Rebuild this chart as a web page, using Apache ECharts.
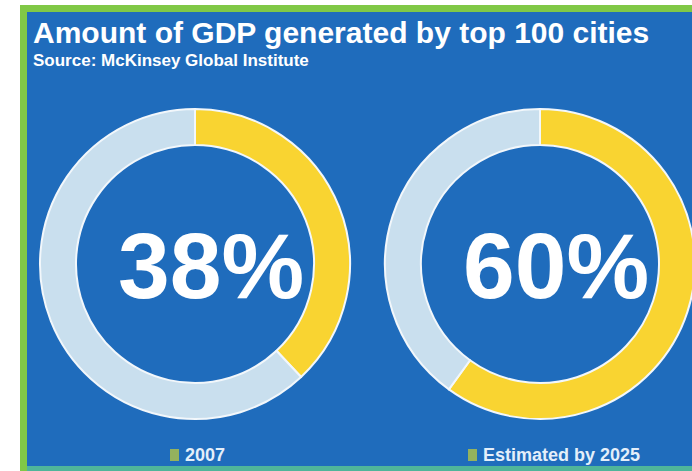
<!DOCTYPE html>
<html><head><meta charset="utf-8">
<script src="https://cdn.jsdelivr.net/npm/echarts@6/dist/echarts.min.js"></script>
<style>html,body{margin:0;padding:0;background:#fff;}#c{width:692px;height:471px;}</style>
</head><body><div id="c"></div>
<script>
const titleText = 'Amount of GDP generated by top 100 cities';
const subtitleText = 'Source: McKinsey Global Institute';
const pieNames = ['2007', 'Estimated by 2025'];
const cityShare = [38, 60];
const restShare = [62, 40];
const centerLabels = ['38%', '60%'];
const segmentNames = ['Top 100 cities', 'Rest of world'];

const chart = echarts.init(document.getElementById('c'), null, {renderer: 'svg'});
const centers = [[195, 264], [540, 264]];
const series = cityShare.map((v, i) => ({
  type: 'pie',
  name: pieNames[i],
  center: centers[i],
  radius: [119, 155],
  startAngle: 90,
  clockwise: true,
  silent: true,
  label: {show: false},
  labelLine: {show: false},
  itemStyle: {borderColor: '#f2f7fb', borderWidth: 2},
  data: [
    {name: segmentNames[0], value: v, itemStyle: {color: '#f9d431'}},
    {name: segmentNames[1], value: restShare[i], itemStyle: {color: '#c9dfee'}}
  ]
}));

const font = 'Liberation Sans, Arial, sans-serif';
const titles = [
  {text: titleText, left: 28, top: 12, textStyle: {color: '#ffffff', fontSize: 30, fontWeight: 'bold', fontFamily: font}},
  {text: subtitleText, left: 28, top: 47, textStyle: {color: '#ffffff', fontSize: 17, fontWeight: 'bold', fontFamily: font}}
];
centerLabels.forEach((t, i) => {
  titles.push({text: t, left: centers[i][0] + 11, top: centers[i][1] - 50, textAlign: 'center',
    textStyle: {color: '#ffffff', fontSize: 93, fontWeight: 'bold', fontFamily: font}});
});
const legendX = [165, 463];
pieNames.forEach((t, i) => {
  titles.push({text: '{ic|}{gap|}' + t, left: legendX[i], top: 441,
    textStyle: {color: '#e4effa', fontSize: 18, fontWeight: 'bold', fontFamily: font,
      rich: {ic: {width: 9, height: 12, backgroundColor: '#94b25e'}, gap: {width: 6}}}});
});

chart.setOption({
  animation: false,
  backgroundColor: '#ffffff',
  graphic: [
    {type: 'rect', z: -10, shape: {x: 20, y: 5, width: 672, height: 466}, style: {fill: '#80c846'}},
    {type: 'rect', z: -9, shape: {x: 27, y: 12, width: 665, height: 454}, style: {fill: '#1f6cbc'}},
    {type: 'rect', z: -9, shape: {x: 27, y: 466, width: 665, height: 5}, style: {fill: '#4fb59a'}}
  ],
  title: titles,
  series: series
});
</script></body></html>
